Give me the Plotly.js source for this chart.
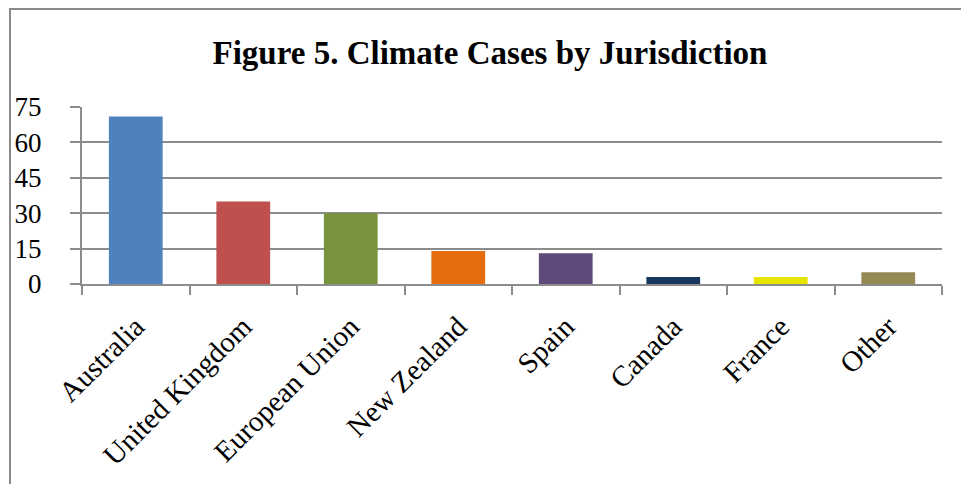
<!DOCTYPE html>
<html>
<head>
<meta charset="utf-8">
<script src="https://cdn.plot.ly/plotly-3.0.1.min.js"></script>
<style>html,body{margin:0;padding:0;background:#fff;}#chart{width:961px;height:484px;}</style>
</head>
<body>
<div id="chart"></div>
<script>
const categories = ["Australia", "United Kingdom", "European Union", "New Zealand", "Spain", "Canada", "France", "Other"];
const cases = [71, 35, 30, 14, 13, 3, 3, 5];
const barColors = ["#4F81BD", "#C0504D", "#77933C", "#E46C0A", "#604A7B", "#17375E", "#E6E600", "#948A54"];
const yTicks = [0, 15, 30, 45, 60, 75];

const W = 961, H = 484;
const m = {l: 82, r: 19, t: 107, b: 200};
const pw = W - m.l - m.r, ph = H - m.t - m.b;
const px2x = p => (p - m.l) / pw;
const py2y = p => (H - m.b - p) / ph;

const serif = "'Liberation Serif', 'DejaVu Serif', serif";
const gridCol = "#8c8c8c";

Plotly.newPlot("chart", [{
  type: "bar",
  x: categories,
  y: cases,
  marker: {color: barColors, line: {width: 0}},
  width: 0.5,
  hoverinfo: "x+y"
}], {
  width: W, height: H,
  margin: m,
  paper_bgcolor: "#ffffff",
  plot_bgcolor: "#ffffff",
  showlegend: false,
  title: {
    text: "<b>Figure 5. Climate Cases by Jurisdiction</b>",
    font: {family: serif, size: 33, color: "#000"},
    x: 490 / W, xref: "container", xanchor: "center",
    y: 1 - 52 / H, yref: "container", yanchor: "middle"
  },
  xaxis: {
    type: "category",
    tickangle: -45,
    tickfont: {family: serif, size: 29, color: "#000"},
    showline: true, linecolor: gridCol, linewidth: 2,
    ticks: "outside", tickson: "boundaries", ticklen: 9, tickwidth: 2, tickcolor: gridCol,
    ticklabelstandoff: 12,
    showgrid: false, zeroline: false
  },
  yaxis: {
    range: [0, 75],
    tickvals: yTicks,
    ticktext: yTicks.map(String),
    tickfont: {family: serif, size: 27, color: "#000"},
    showline: true, linecolor: gridCol, linewidth: 2,
    ticks: "outside", ticklen: 10, tickwidth: 2, tickcolor: gridCol,
    ticklabelstandoff: 23,
    showgrid: true, gridcolor: gridCol, gridwidth: 2,
    zeroline: false
  },
  shapes: [{
    type: "rect", xref: "paper", yref: "paper",
    x0: px2x(10), x1: px2x(W + 20), y0: py2y(H + 20), y1: py2y(9),
    line: {color: "#8a8a8a", width: 2}, fillcolor: "rgba(0,0,0,0)", layer: "below"
  }]
}, {displayModeBar: false, staticPlot: true});
</script>
</body>
</html>
